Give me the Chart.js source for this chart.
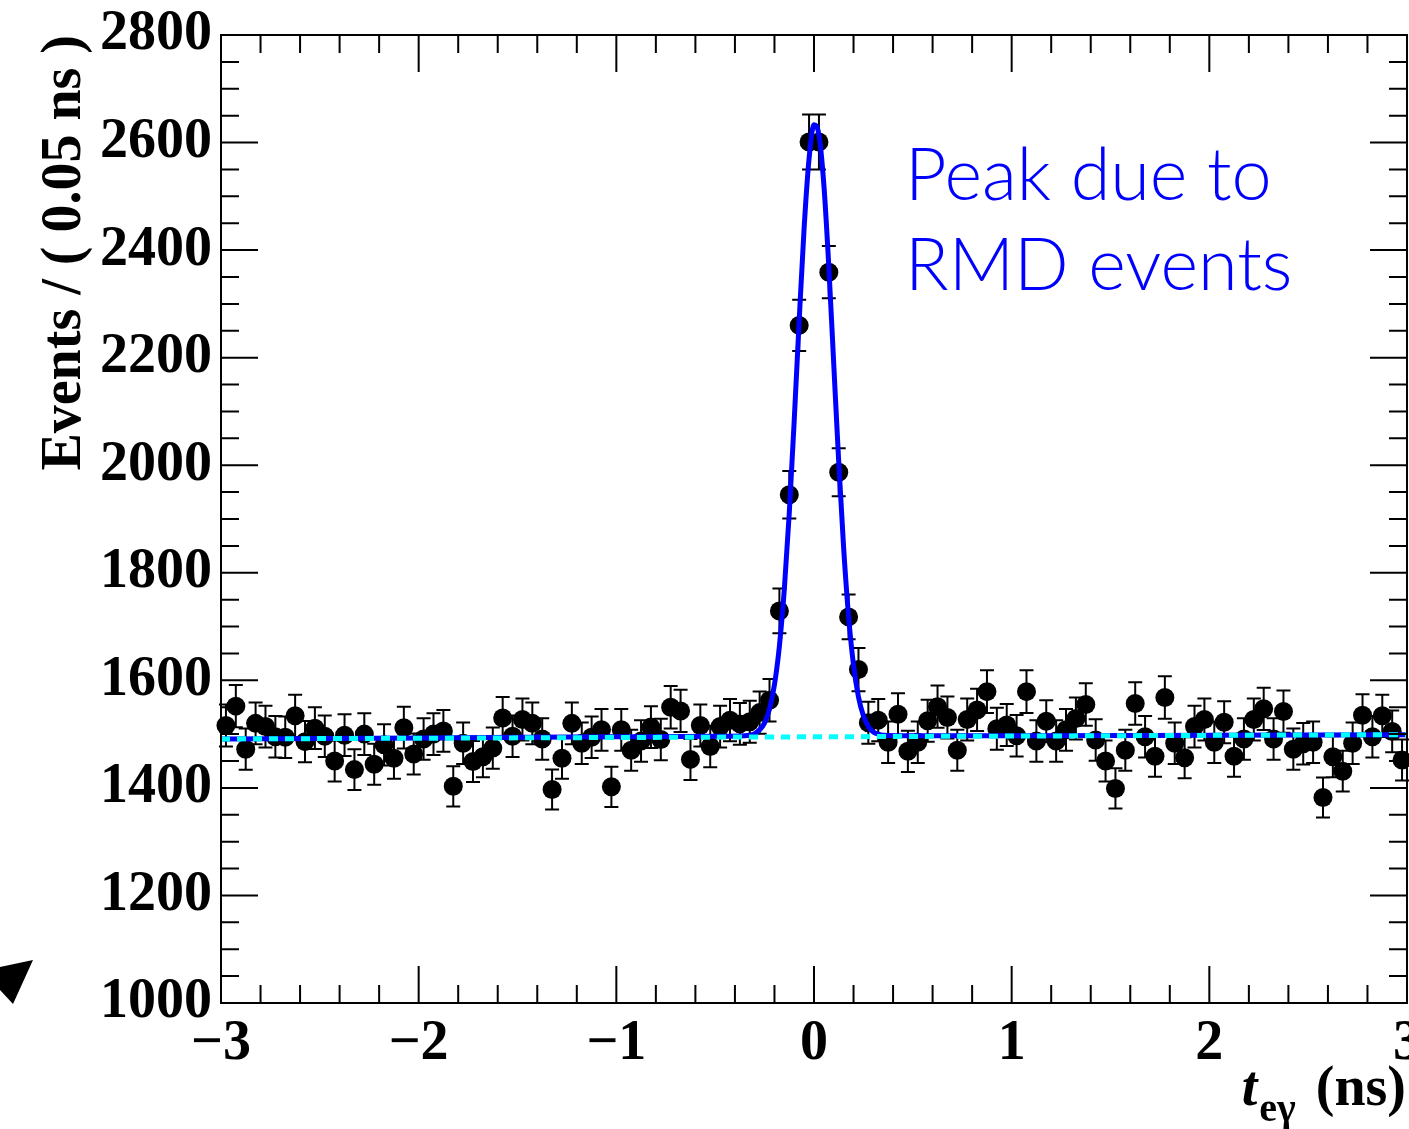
<!DOCTYPE html>
<html>
<head>
<meta charset="utf-8">
<title>t_eγ distribution</title>
<script src="https://cdn.jsdelivr.net/npm/chart.js@4.4.1/dist/chart.umd.min.js"></script>
<style>
  html, body { margin: 0; padding: 0; background: #fff; }
  #wrap { position: relative; width: 1409px; height: 1129px; overflow: hidden; }
  #note {
    position: absolute; left: 905px; top: 127px;
    font-family: Lato, "Open Sans", sans-serif; font-weight: 300;
    font-size: 72px; line-height: 90px; color: #0000ff; white-space: nowrap;
  }
  #xtitle {
    position: absolute; right: 3px; top: 1058px;
    font-family: "Liberation Serif", "Times New Roman", serif; font-weight: bold;
    font-size: 56px; line-height: 56px; white-space: nowrap; color: #000;
  }
  #xtitle .sub { font-size: 40px; position: relative; top: 16px; margin-left: 2px; margin-right: 6px; }
  #arrow { position: absolute; left: 0; top: 0; }
</style>
</head>
<body>
<div id="wrap">
  <canvas id="chart" width="1409" height="1129"></canvas>
  <div id="note">Peak due to<br>RMD events</div>
  <div id="xtitle"><i>t</i><span class="sub">eγ</span> (ns)</div>
  <svg id="arrow" width="40" height="1010"><polygon points="0,967 33,960 13,1004 0,990" fill="#000"/></svg>
</div>
<script>
// histogram range, 120 bins of 0.05 ns
const xMin = -3, xMax = 3, binWidth = 0.05;
const yMin = 1000, yMax = 2800;
const xTickValues = [-3, -2, -1, 0, 1, 2, 3];
const yTickValues = [1000, 1200, 1400, 1600, 1800, 2000, 2200, 2400, 2600, 2800];

// events per bin
const counts = [
  1516, 1552, 1472, 1520, 1514, 1495, 1494, 1534, 1486, 1511,
  1496, 1450, 1498, 1434, 1500, 1444, 1480, 1455, 1512, 1463,
  1491, 1500, 1506, 1403, 1483, 1449, 1458, 1474, 1530, 1496,
  1527, 1520, 1491, 1397, 1455, 1520, 1483, 1494, 1508, 1402,
  1508, 1470, 1487, 1513, 1490, 1550, 1543, 1453, 1516, 1477,
  1514, 1526, 1519, 1523, 1540, 1563, 1729, 1945, 2260, 2601,
  2601, 2359, 1987, 1718, 1620, 1521, 1526, 1485, 1537, 1468,
  1485, 1525, 1551, 1531, 1470, 1527, 1545, 1579, 1510, 1517,
  1497, 1579, 1487, 1524, 1487, 1508, 1529, 1555, 1489, 1450,
  1399, 1470, 1557, 1495, 1459, 1568, 1483, 1456, 1514, 1527,
  1485, 1522, 1459, 1491, 1527, 1547, 1491, 1542, 1472, 1482,
  1485, 1382, 1458, 1431, 1483, 1535, 1495, 1534, 1505, 1452
];
const binCenters = counts.map((_, i) => xMin + binWidth * (i + 0.5));

// total fit curve (signal + background)
const fitX = [-3, -2, -1, -0.5, -0.35, -0.325, -0.3, -0.275, -0.25, -0.225, -0.2, -0.175,
  -0.15, -0.125, -0.1, -0.075, -0.05, -0.025, 0, 0.025, 0.05, 0.075, 0.1, 0.125, 0.15,
  0.175, 0.2, 0.225, 0.25, 0.275, 0.3, 0.325, 0.35, 0.5, 1, 2, 3];
const fitY = [1491, 1493, 1495, 1496, 1497, 1498, 1501, 1508, 1521, 1547, 1592, 1664,
  1770, 1912, 2084, 2269, 2441, 2570, 2633, 2614, 2521, 2369, 2187, 2006, 1846,
  1719, 1628, 1569, 1534, 1514, 1504, 1500, 1498, 1497, 1497, 1498, 1499];

// background component
const bkgX = [-3, 3];
const bkgY = [1491, 1499];

const serif = "'Liberation Serif', 'Times New Roman', serif";
const fmtTick = v => v < 0 ? '\u2212' + Math.abs(v) : String(v);

// ROOT-style frame with inner ticks on all four sides
const frameTicks = {
  id: 'frameTicks',
  afterDraw(chart) {
    const { ctx, chartArea: a, scales: { x, y } } = chart;
    ctx.save();
    ctx.strokeStyle = '#000';
    ctx.lineWidth = 2;
    ctx.beginPath();
    for (let k = 0; k <= 36; k++) {
      const py = y.getPixelForValue(yMin + 50 * k);
      const len = k % 4 === 0 ? 37 : 18;
      ctx.moveTo(a.left, py); ctx.lineTo(a.left + len, py);
      ctx.moveTo(a.right, py); ctx.lineTo(a.right - len, py);
    }
    for (let k = 0; k <= 30; k++) {
      const px = x.getPixelForValue(xMin + 0.2 * k);
      const len = k % 5 === 0 ? 37 : 18;
      ctx.moveTo(px, a.bottom); ctx.lineTo(px, a.bottom - len);
      ctx.moveTo(px, a.top); ctx.lineTo(px, a.top + len);
    }
    ctx.stroke();
    ctx.strokeRect(a.left, a.top, a.right - a.left, a.bottom - a.top);
    ctx.restore();
  }
};

// Poisson error bars with end caps
const errorBars = {
  id: 'errorBars',
  beforeDatasetsDraw(chart) {
    const { ctx, scales: { x, y } } = chart;
    ctx.save();
    ctx.strokeStyle = '#000';
    ctx.lineWidth = 2;
    ctx.beginPath();
    counts.forEach((c, i) => {
      const err = Math.sqrt(c);
      const px = x.getPixelForValue(binCenters[i]);
      const top = y.getPixelForValue(c + err);
      const bot = y.getPixelForValue(c - err);
      ctx.moveTo(px, top); ctx.lineTo(px, bot);
      ctx.moveTo(px - 7, top); ctx.lineTo(px + 7, top);
      ctx.moveTo(px - 7, bot); ctx.lineTo(px + 7, bot);
    });
    ctx.stroke();
    ctx.restore();
  }
};

new Chart(document.getElementById('chart'), {
  type: 'scatter',
  data: {
    datasets: [
      {
        label: 'data',
        data: counts.map((c, i) => ({ x: binCenters[i], y: c })),
        backgroundColor: '#000',
        borderWidth: 0,
        pointRadius: 9.5,
        clip: false,
        order: 3
      },
      {
        label: 'fit',
        type: 'line',
        data: fitX.map((v, i) => ({ x: v, y: fitY[i] })),
        borderColor: '#0000ff',
        borderWidth: 5,
        pointRadius: 0,
        cubicInterpolationMode: 'monotone',
        fill: false,
        order: 2
      },
      {
        label: 'background',
        type: 'line',
        data: bkgX.map((v, i) => ({ x: v, y: bkgY[i] })),
        borderColor: '#00ffff',
        borderWidth: 5,
        borderDash: [9, 7],
        pointRadius: 0,
        fill: false,
        order: 1
      }
    ]
  },
  options: {
    responsive: false,
    animation: false,
    devicePixelRatio: 1,
    layout: { autoPadding: false, padding: { top: 35, right: 2, left: 0, bottom: 0 } },
    plugins: { legend: { display: false }, tooltip: { enabled: false } },
    scales: {
      x: {
        type: 'linear',
        min: xMin, max: xMax,
        grid: { display: false, drawTicks: false },
        border: { display: false },
        afterBuildTicks: s => { s.ticks = xTickValues.map(v => ({ value: v })); },
        ticks: {
          callback: fmtTick,
          color: '#000',
          padding: 8,
          maxRotation: 0,
          autoSkip: false,
          font: { family: serif, size: 56, weight: 'bold' }
        },
        afterFit: s => { s.height = 126; s.paddingLeft = 0; s.paddingRight = 0; }
      },
      y: {
        type: 'linear',
        min: yMin, max: yMax,
        grid: { display: false, drawTicks: false },
        border: { display: false },
        afterBuildTicks: s => { s.ticks = yTickValues.map(v => ({ value: v })); },
        ticks: {
          callback: fmtTick,
          color: '#000',
          padding: 9,
          autoSkip: false,
          font: { family: serif, size: 56, weight: 'bold' }
        },
        title: {
          display: true,
          text: 'Events / ( 0.05 ns )',
          align: 'end',
          color: '#000',
          padding: { top: 32, bottom: 0 },
          font: { family: serif, size: 56, weight: 'bold' }
        },
        afterFit: s => { s.width = 221; s.paddingTop = 0; s.paddingBottom = 0; }
      }
    }
  },
  plugins: [errorBars, frameTicks]
});
</script>
</body>
</html>
